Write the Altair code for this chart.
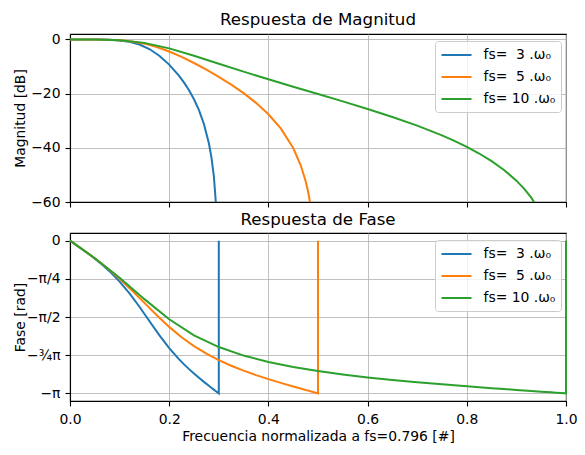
import altair as alt
import pandas as pd

PI = 3.141592653589793

labels = ["fs=\u00a0 3 .\u03c9\u2080", "fs=\u00a0 5 .\u03c9\u2080", "fs= 10 .\u03c9\u2080"]
colors = ["#1f77b4", "#ff7f0e", "#2ca02c"]

# fs = 3 w0
x3 = [0, 0.02, 0.04, 0.06, 0.08, 0.10, 0.12, 0.14, 0.16, 0.18, 0.20, 0.22,
      0.23, 0.24, 0.25, 0.26, 0.27, 0.28, 0.285, 0.29, 0.295, 0.298, 0.3]
mag3 = [0, -0.0004, -0.0074, -0.040, -0.140, -0.384, -0.905, -1.894, -3.551,
        -6.004, -9.286, -13.456, -15.944, -18.786, -22.104, -26.11, -31.214,
        -38.335, -43.360, -50.42, -62.48, -78.40, -200]
ph3 = [0, -0.1424, -0.2909, -0.4521, -0.6332, -0.8420, -1.0845, -1.3596,
       -1.6538, -1.9438, -2.2092, -2.4415, -2.5457, -2.6432, -2.7349, -2.8218,
       -2.9049, -2.9853, -3.0248, -3.0639, -3.1028, -3.1261, -3.1416, 0]

# fs = 5 w0
x5 = [0, 0.025, 0.05, 0.075, 0.1, 0.125, 0.15, 0.175, 0.2, 0.225, 0.25, 0.275,
      0.3, 0.325, 0.35, 0.375, 0.4, 0.425, 0.45, 0.465, 0.475, 0.48, 0.485,
      0.49, 0.495, 0.5]
mag5 = [0, -0.0011, -0.0175, -0.0916, -0.300, -0.751, -1.561, -2.798, -4.453,
        -6.448, -8.702, -11.159, -13.807, -16.675, -19.832, -23.404, -27.609,
        -32.861, -40.085, -46.355, -52.234, -56.123, -61.130, -68.181, -80.227,
        -200]
ph5 = [0, -0.1781, -0.3637, -0.5642, -0.7845, -1.0256, -1.2807, -1.5354,
       -1.7741, -1.9861, -2.1687, -2.3243, -2.4575, -2.5728, -2.6744, -2.7656,
       -2.8490, -2.9267, -3.0004, -3.0433, -3.0716, -3.0857, -3.0997, -3.1137,
       -3.1276, -3.1416, 0]

# fs = 10 w0
x10 = [0, 0.05, 0.1, 0.15, 0.2, 0.25, 0.3, 0.35, 0.4, 0.45, 0.5, 0.55, 0.6,
       0.65, 0.7, 0.75, 0.775, 0.8, 0.825, 0.85, 0.875, 0.9, 0.915, 0.93,
       0.95, 0.96, 0.97, 0.98, 0.99, 1.0]
mag10 = [0, -0.0171, -0.2719, -1.2745, -3.3127, -6.0444, -8.9869, -11.8969,
         -14.7137, -17.4526, -20.1561, -22.8765, -25.6754, -28.6273, -31.8303,
         -35.4263, -37.442, -39.6434, -42.103, -44.9000, -48.168, -52.1255,
         -54.990, -58.3962, -64.2747, -68.1640, -73.1715, -80.2223, -92.268,
         -200]
ph10 = [0, -0.3614, -0.7629, -1.2033, -1.6184, -1.9479, -2.1888, -2.3645,
        -2.4967, -2.6000, -2.6836, -2.7534, -2.8134, -2.8660, -2.9133, -2.9565,
        -2.9770, -2.9967, -3.0160, -3.0347, -3.0531, -3.0712, -3.0819, -3.0925,
        -3.1066, -3.1136, -3.1206, -3.1276, -3.1346, -3.1416, 0]

series = [(labels[0], x3, mag3, ph3), (labels[1], x5, mag5, ph5),
          (labels[2], x10, mag10, ph10)]

mag_rows, ph_rows = [], []
for name, xs, ms, ps in series:
    for i, (xv, mv) in enumerate(zip(xs, ms)):
        mag_rows.append({"x": xv, "val": mv, "serie": name, "i": i})
    xps = xs + [xs[-1]]
    for i, (xv, pv) in enumerate(zip(xps, ps)):
        ph_rows.append({"x": xv, "val": pv, "serie": name, "i": i})
df_mag = pd.DataFrame(mag_rows)
df_ph = pd.DataFrame(ph_rows)

W, H = 496, 168
xticks = [0, 0.2, 0.4, 0.6, 0.8, 1.0]

color = alt.Color("serie:N", scale=alt.Scale(domain=labels, range=colors),
                  legend=alt.Legend(title=None, orient="none", legendX=365,
                                    legendY=7))

title_props = dict(fontSize=16.67, font="DejaVu Sans", fontWeight="normal",
                   color="black", offset=-9, baseline="alphabetic")

top = alt.Chart(df_mag).mark_line(clip=True, strokeWidth=2).encode(
    x=alt.X("x:Q", scale=alt.Scale(domain=[0, 1], nice=False, zero=False),
            axis=alt.Axis(values=xticks, labels=False, title=None)),
    y=alt.Y("val:Q", scale=alt.Scale(domain=[-60, 2], nice=False, zero=False),
            axis=alt.Axis(values=[0, -20, -40, -60], title="Magnitud [dB]",
                          titleX=-46, titleY=H / 2, titleAngle=-90,
                          titleAlign="center", titleBaseline="alphabetic")),
    color=color,
    order="i:Q",
).properties(width=W, height=H,
             title=alt.TitleParams("Respuesta de Magnitud", **title_props))

ph_ticks = [0, -PI / 4, -PI / 2, -3 * PI / 4, -PI]
bottom = alt.Chart(df_ph).mark_line(clip=False, strokeWidth=2).encode(
    x=alt.X("x:Q", scale=alt.Scale(domain=[0, 1], nice=False, zero=False),
            axis=alt.Axis(values=xticks, format=".1f", labelFlush=False,
                          title="Frecuencia normalizada a fs=0.796 [#]",
                          titleX=W / 2, titleY=39.5, titleAlign="center",
                          titleBaseline="alphabetic")),
    y=alt.Y("val:Q", scale=alt.Scale(domain=[-1.05 * PI, 0.05 * PI], nice=False,
                                     zero=False),
            axis=alt.Axis(values=ph_ticks, title="Fase [rad]",
                          labelExpr="datum.value > -0.1 ? '0' : datum.value > -1 ? '\u2212\u03c0/4' : datum.value > -2 ? '\u2212\u03c0/2' : datum.value > -3 ? '\u2212\u00be\u03c0' : '\u2212\u03c0'",
                          titleX=-46, titleY=H / 2, titleAngle=-90,
                          titleAlign="center", titleBaseline="alphabetic")),
    color=color,
    order="i:Q",
).properties(width=W, height=H,
             title=alt.TitleParams("Respuesta de Fase", **title_props))

chart = alt.vconcat(top, bottom, spacing=1).resolve_legend(
    color="independent").resolve_scale(color="shared").properties(
    padding={"left": 12, "top": 11, "right": 5, "bottom": 5}
).configure(font="DejaVu Sans").configure_view(
    stroke="black", strokeWidth=1.1
).configure_axis(
    labelFont="DejaVu Sans", labelFontSize=13.9, labelColor="black",
    titleFont="DejaVu Sans", titleFontSize=13.9, titleFontWeight="normal",
    titleColor="black", tickColor="black", tickSize=5, tickWidth=1.1,
    domainColor="black", domainWidth=1.1, gridColor="#b0b0b0", gridWidth=0.8,
    grid=True, labelFlush=False
).configure_axisX(labelPadding=6).configure_axisY(labelPadding=5).configure_legend(
    symbolType="M-1,0H3", symbolSize=225, symbolStrokeWidth=2,
    labelFontSize=13.9, labelFont="DejaVu Sans", labelColor="black",
    labelOffset=26, fillColor="rgba(255,255,255,0.8)", strokeColor="#cccccc",
    cornerRadius=3, padding=5.5, rowPadding=6
)

chart.save("out.html", embed_options={"renderer": "svg", "actions": False})
